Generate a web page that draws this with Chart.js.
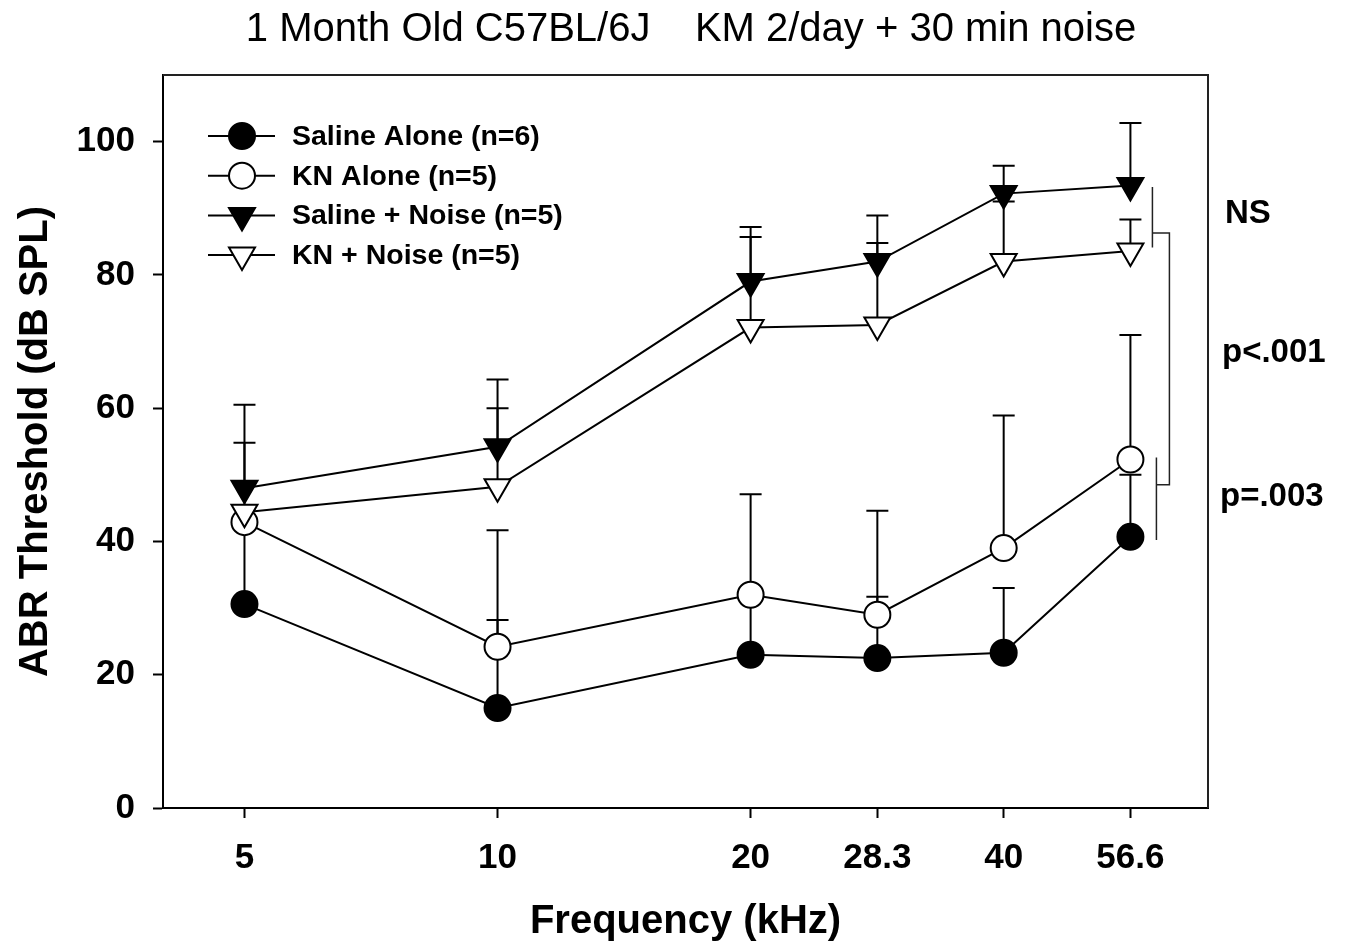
<!DOCTYPE html>
<html>
<head>
<meta charset="utf-8">
<title>ABR Threshold</title>
<script src="https://cdn.jsdelivr.net/npm/chart.js@4.4.1/dist/chart.umd.min.js"></script>
<style>
  html, body { margin: 0; padding: 0; background: #fff; }
</style>
</head>
<body>
<canvas id="abrChart" width="1347" height="952"></canvas>
<script>
const frequencies = [5, 10, 20, 28.3, 40, 56.6];
const freqLabels = ['5', '10', '20', '28.3', '40', '56.6'];
const yTicks = [0, 20, 40, 60, 80, 100];

const seriesNames = ['Saline Alone (n=6)', 'KN Alone (n=5)', 'Saline + Noise (n=5)', 'KN + Noise (n=5)'];

// mean thresholds (dB SPL) and upper error bars
const salineAlone = [30.6, 15.0, 23.0, 22.5, 23.3, 40.7];
const salineAloneErr = [12.0, 13.2, 9.0, 9.2, 9.7, 9.3];
const knAlone = [42.9, 24.2, 32.0, 29.0, 39.0, 52.3];
const knAloneErr = [2.0, 17.5, 15.1, 15.6, 19.9, 18.7];
const salineNoise = [48.0, 54.2, 79.0, 82.0, 92.2, 93.4];
const salineNoiseErr = [12.5, 10.1, 8.2, 6.9, 4.2, 9.4];
const knNoise = [44.4, 48.2, 72.1, 72.5, 82.0, 83.6];
const knNoiseErr = [10.4, 11.8, 13.6, 12.3, 9.0, 4.7];

const statLabels = ['NS', 'p<.001', 'p=.003'];

const FONT = "'Liberation Sans', Arial, Helvetica, sans-serif";

function toPoints(vals) {
  return frequencies.map((f, i) => ({ x: f, y: vals[i] }));
}

function series(label, vals, errs, style, fill, order) {
  const tri = style === 'triangle';
  return {
    label: label,
    data: toPoints(vals),
    errors: errs,
    order: order,
    showLine: true,
    fill: false,
    tension: 0,
    borderColor: '#000',
    borderWidth: 2,
    pointStyle: style,
    pointRotation: tri ? 180 : 0,
    pointRadius: tri ? 15 : 13,
    pointHoverRadius: tri ? 15 : 13,
    pointBackgroundColor: fill,
    pointBorderColor: '#000',
    pointBorderWidth: 2
  };
}

// upper-only error bars, drawn under the markers
const errorBars = {
  id: 'errorBars',
  beforeDatasetsDraw(chart) {
    const { ctx, scales: { x, y } } = chart;
    ctx.save();
    ctx.strokeStyle = '#000';
    ctx.lineWidth = 2;
    chart.data.datasets.forEach(ds => {
      ds.data.forEach((p, i) => {
        const px = x.getPixelForValue(p.x);
        const y0 = y.getPixelForValue(p.y);
        const y1 = y.getPixelForValue(p.y + ds.errors[i]);
        ctx.beginPath();
        ctx.moveTo(px, y0);
        ctx.lineTo(px, y1);
        ctx.moveTo(px - 11, y1);
        ctx.lineTo(px + 11, y1);
        ctx.stroke();
      });
    });
    ctx.restore();
  }
};

// top and right sides of the plot box
const plotFrame = {
  id: 'plotFrame',
  beforeDatasetsDraw(chart) {
    const { ctx, chartArea: a } = chart;
    ctx.save();
    ctx.strokeStyle = '#222';
    ctx.lineWidth = 2;
    ctx.beginPath();
    ctx.moveTo(a.left, a.top);
    ctx.lineTo(a.right, a.top);
    ctx.lineTo(a.right, a.bottom);
    ctx.stroke();
    ctx.restore();
  }
};

const titleText = {
  id: 'titleText',
  afterDraw(chart) {
    const ctx = chart.ctx;
    ctx.save();
    ctx.fillStyle = '#000';
    ctx.font = '40px ' + FONT;
    ctx.textAlign = 'center';
    ctx.textBaseline = 'alphabetic';
    ctx.fillText('1 Month Old C57BL/6J    KM 2/day + 30 min noise', 691, 41);
    ctx.restore();
  }
};

// legend with line + marker samples
const lineLegend = {
  id: 'lineLegend',
  afterDraw(chart) {
    const ctx = chart.ctx;
    ctx.save();
    chart.data.datasets.forEach((ds, i) => {
      const yy = 136 + i * 39.7;
      ctx.strokeStyle = '#000';
      ctx.lineWidth = 2;
      ctx.beginPath();
      ctx.moveTo(208, yy);
      ctx.lineTo(275, yy);
      ctx.stroke();
      ctx.fillStyle = ds.pointBackgroundColor;
      Chart.helpers.drawPoint(ctx, {
        pointStyle: ds.pointStyle,
        rotation: ds.pointRotation,
        radius: ds.pointRadius,
        borderWidth: 2
      }, 242, yy);
      ctx.fillStyle = '#000';
      ctx.font = 'bold 28.5px ' + FONT;
      ctx.textAlign = 'left';
      ctx.textBaseline = 'middle';
      ctx.fillText(ds.label, 292, yy + 1);
    });
    ctx.restore();
  }
};

// significance brackets beside the 56.6 kHz points
const statBrackets = {
  id: 'statBrackets',
  afterDatasetsDraw(chart) {
    const { ctx, chartArea: a, scales: { x, y } } = chart;
    const px = x.getPixelForValue(frequencies[frequencies.length - 1]);
    const xa = px + 22, xb = px + 26, xl = px + 39;
    ctx.save();
    ctx.strokeStyle = '#222';
    ctx.lineWidth = 1.5;
    ctx.beginPath();
    ctx.moveTo(xa, y.getPixelForValue(93.2));
    ctx.lineTo(xa, y.getPixelForValue(84.1));
    ctx.moveTo(xb, y.getPixelForValue(52.6));
    ctx.lineTo(xb, y.getPixelForValue(40.2));
    ctx.moveTo(xa, y.getPixelForValue(86.3));
    ctx.lineTo(xl, y.getPixelForValue(86.3));
    ctx.lineTo(xl, y.getPixelForValue(48.5));
    ctx.lineTo(xb, y.getPixelForValue(48.5));
    ctx.stroke();

    ctx.fillStyle = '#000';
    ctx.font = 'bold 33px ' + FONT;
    ctx.textAlign = 'left';
    ctx.textBaseline = 'middle';
    const labelY = [89.2, 68.3, 46.7];
    const labelX = [17, 14, 12];
    statLabels.forEach((t, i) => {
      ctx.fillText(t, a.right + labelX[i], y.getPixelForValue(labelY[i]));
    });
    ctx.restore();
  }
};

const axisGrid = {
  drawOnChartArea: false,
  drawTicks: true,
  tickLength: 10,
  tickWidth: 2,
  tickColor: '#000'
};
const axisBorder = { display: true, color: '#000', width: 2 };

new Chart(document.getElementById('abrChart'), {
  type: 'line',
  data: {
    datasets: [
      series(seriesNames[0], salineAlone, salineAloneErr, 'circle', '#000', 3),
      series(seriesNames[1], knAlone, knAloneErr, 'circle', '#fff', 2),
      series(seriesNames[2], salineNoise, salineNoiseErr, 'triangle', '#000', 0),
      series(seriesNames[3], knNoise, knNoiseErr, 'triangle', '#fff', 1)
    ]
  },
  options: {
    responsive: false,
    devicePixelRatio: 1,
    animation: false,
    layout: { padding: { top: 75, right: 139, left: 0, bottom: 0 } },
    plugins: {
      legend: { display: false },
      tooltip: { enabled: false },
      title: { display: false }
    },
    scales: {
      x: {
        type: 'logarithmic',
        min: 4,
        max: 70,
        afterBuildTicks: s => { s.ticks = frequencies.map(v => ({ value: v })); },
        afterFit: s => { s.height = 144; },
        grid: axisGrid,
        border: axisBorder,
        ticks: {
          autoSkip: false,
          maxRotation: 0,
          padding: 19,
          color: '#000',
          font: { family: FONT, size: 35, weight: 'bold' },
          callback: v => {
            const k = frequencies.indexOf(v);
            return k >= 0 ? freqLabels[k] : '';
          }
        },
        title: {
          display: true,
          text: 'Frequency (kHz)',
          color: '#000',
          font: { family: FONT, size: 40, weight: 'bold' },
          padding: { top: 0, bottom: 6 }
        }
      },
      y: {
        type: 'linear',
        min: 0,
        max: 110,
        afterBuildTicks: s => { s.ticks = yTicks.map(v => ({ value: v })); },
        afterFit: s => { s.width = 163; },
        grid: axisGrid,
        border: axisBorder,
        ticks: {
          padding: 18,
          color: '#000',
          font: { family: FONT, size: 35, weight: 'bold' },
          callback: v => String(v)
        },
        title: {
          display: true,
          text: 'ABR Threshold (dB SPL)',
          color: '#000',
          font: { family: FONT, size: 40, weight: 'bold' },
          padding: { top: 12, bottom: 0 }
        }
      }
    }
  },
  plugins: [plotFrame, errorBars, statBrackets, lineLegend, titleText]
});
</script>
</body>
</html>
